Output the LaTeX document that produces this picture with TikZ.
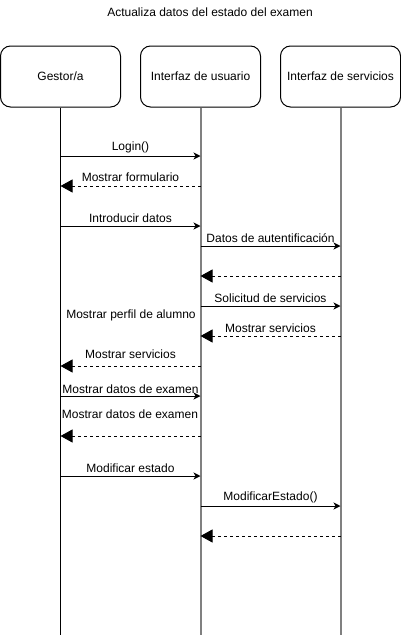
\documentclass[tikz,border=0pt]{standalone}
\usepackage{fontspec}
\setmainfont{Liberation Sans}
\usepackage{tikz}
\usetikzlibrary{shapes.geometric, arrows.meta}
\definecolor{lifegray}{RGB}{128,128,128}
\tikzstyle{actor} = [rectangle, rounded corners=10pt, minimum width=120pt, minimum height=61pt, text centered, draw=black, line width=1pt, fill=white]
\tikzstyle{life} = [black, line width=1pt]
\tikzstyle{lifeg} = [lifegray, line width=2pt]
\tikzstyle{msg} = [black, line width=1pt, -{Stealth[length=7pt,width=7pt,inset=2pt]}]
\tikzstyle{ret} = [black, line width=1pt, dash pattern=on 3pt off 3pt, -{Triangle[length=12pt,width=13pt]}]
\tikzstyle{lbl} = [above, inner sep=3pt]

\begin{document}
\begin{tikzpicture}[x=1pt, y=-1pt, node distance=140pt, font=\fontsize{12}{14}\selectfont]
            \useasboundingbox (0,0) rectangle (401,637);
            \node(title) at (210,12) {Actualiza datos del estado del examen};
            \node(gestor)[actor] at (60.5,76.5) {Gestor/a};
            \node(usuario)[actor,right of=gestor]{Interfaz de usuario};
            \node(servicios)[actor,right of=usuario]{Interfaz de servicios};
            \coordinate(gend) at (60.5,635);
            \draw[life](gestor.south)--(gestor.south |- gend);
            \draw[lifeg](usuario.south)--(usuario.south |- gend);
            \draw[lifeg](servicios.south)--(servicios.south |- gend);
            \draw[msg](gestor |- 0,156)--(usuario |- 0,156) node[lbl,midway]{Login()};
            \draw[ret](usuario |- 0,186)--(gestor |- 0,186) node[lbl,midway,yshift=1pt]{Mostrar formulario};
            \draw[msg](gestor |- 0,226)--(usuario |- 0,226) node[lbl,midway]{Introducir datos};
            \draw[msg](usuario |- 0,246)--(servicios |- 0,246) node[lbl,midway]{Datos de autentificación};
            \draw[ret](servicios |- 0,276)--(usuario |- 0,276);
            \draw[msg](usuario |- 0,306)--(servicios |- 0,306) node[lbl,midway]{Solicitud de servicios};
            \node(perfil) at (131,315) {Mostrar perfil de alumno};
            \draw[ret](servicios |- 0,336)--(usuario |- 0,336) node[lbl,midway]{Mostrar servicios};
            \draw[ret](usuario |- 0,366)--(gestor |- 0,366) node[lbl,midway,yshift=4pt]{Mostrar servicios};
            \draw[msg](gestor |- 0,396)--(usuario |- 0,396) node[lbl,midway,inner sep=1.5pt]{Mostrar datos de examen};
            \draw[ret](usuario |- 0,436)--(gestor |- 0,436);
            \node(datos) at (130,414) {Mostrar datos de examen};
            \draw[msg](gestor |- 0,476)--(usuario |- 0,476) node[lbl,midway]{Modificar estado};
            \draw[msg](usuario |- 0,506)--(servicios |- 0,506) node[lbl,midway]{ModificarEstado()};
            \draw[ret](servicios |- 0,536)--(usuario |- 0,536);
        \end{tikzpicture}
\end{document}
